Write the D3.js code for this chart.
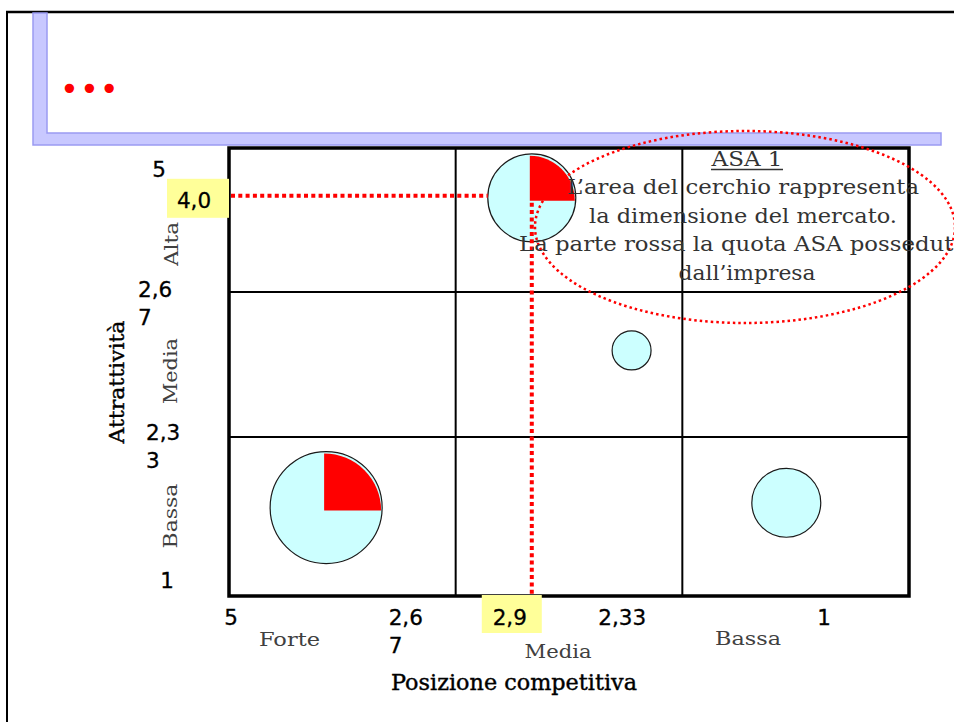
<!DOCTYPE html>
<html>
<head>
<meta charset="utf-8">
<script src="https://cdn.jsdelivr.net/npm/d3@7"></script>
<style>
  html, body { margin: 0; padding: 0; background: #fff; }
  svg { display: block; }
</style>
</head>
<body>
<div id="chart"></div>
<script>
// ---------------- data ----------------
const xTickValues = [5, 3.67, 2.33, 1];
const xTickLabels = [["5"], ["2,6", "7"], ["2,33"], ["1"]];
const yTickValues = [5, 3.67, 2.33, 1];
const yTickLabels = [["5"], ["2,6", "7"], ["2,3", "3"], ["1"]];
const xCategories = ["Forte", "Media", "Bassa"];
const yCategories = ["Alta", "Media", "Bassa"];
const xTitle = "Posizione competitiva";
const yTitle = "Attrattività";
const bubbleNames = ["ASA 1", "ASA 2", "ASA 3", "ASA 4"];
const bubbleX = [3.22, 4.43, 2.63, 1.72];      // posizione competitiva
const bubbleY = [4.54, 1.74, 3.13, 1.78];      // attrattività
const bubbleSize = [19.4, 31.4, 3.8, 11.9];    // dimensione del mercato
const bubbleShare = [0.25, 0.25, 0, 0];        // quota posseduta dall'impresa
const highlightLabels = { x: "2,9", y: "4,0" };
const noteTitle = "ASA 1";
const noteLines = ["L\u2019area del cerchio rappresenta", "la dimensione del mercato.",
                   "La parte rossa la quota ASA posseduta", "dall\u2019impresa"];
const slideTitle = "\u2022\u2022\u2022";

// ---------------- layout ----------------
const W = 954, H = 722;
const L = 229, R = 909, T = 148, B = 596;
const serif = "'DejaVu Serif', 'Liberation Serif', serif";
const sans = "'DejaVu Sans', 'Liberation Sans', sans-serif";

const svg = d3.select("#chart").append("svg").attr("width", W).attr("height", H);

const x = d3.scaleLinear().domain(xTickValues)
  .range(xTickValues.map((d, i) => L + i * (R - L) / (xTickValues.length - 1)));
const y = d3.scaleLinear().domain(yTickValues).range([T, 292, 437, B]);
const rScale = d3.scaleSqrt().domain([0, d3.max(bubbleSize)]).range([0, 56]);

// slide frame
svg.append("line").attr("x1", 6).attr("y1", 12).attr("x2", W).attr("y2", 12)
  .attr("stroke", "#000").attr("stroke-width", 2.5);
svg.append("line").attr("x1", 7).attr("y1", 11).attr("x2", 7).attr("y2", H)
  .attr("stroke", "#000").attr("stroke-width", 2);
svg.append("path").attr("d", "M33,13 H47 V133 H941 V145 H33 Z")
  .attr("fill", "#c8c8ff").attr("stroke", "#9a9af2").attr("stroke-width", 1.5);
svg.append("text").attr("x", 60).attr("y", 100).attr("fill", "#ff0000")
  .attr("font-family", sans).attr("font-size", 32).attr("letter-spacing", 1)
  .text(slideTitle);

// grid
const grid = svg.append("g");
grid.selectAll("line.v").data(xTickValues.slice(1, -1)).join("line")
  .attr("x1", d => x(d)).attr("x2", d => x(d)).attr("y1", T).attr("y2", B)
  .attr("stroke", "#000").attr("stroke-width", 2);
grid.selectAll("line.h").data(yTickValues.slice(1, -1)).join("line")
  .attr("x1", L).attr("x2", R).attr("y1", d => y(d)).attr("y2", d => y(d))
  .attr("stroke", "#000").attr("stroke-width", 2);
grid.append("rect").attr("x", x(5)).attr("y", y(5))
  .attr("width", x(1) - x(5)).attr("height", y(1) - y(5))
  .attr("fill", "none").attr("stroke", "#000").attr("stroke-width", 3.5);

// highlight boxes (behind the labels)
const hx = x(bubbleX[0]), hy = y(bubbleY[0]), hr = rScale(bubbleSize[0]);
svg.append("rect").attr("x", 167).attr("y", hy - 19).attr("width", L - 167).attr("height", 39)
  .attr("fill", "#ffff99");
svg.append("rect").attr("x", hx - 50).attr("y", B - 1).attr("width", 60).attr("height", 38)
  .attr("fill", "#ffff99");

// bubbles
const bubbles = svg.append("g").selectAll("g")
  .data(bubbleNames.map((n, i) => ({ n, x: bubbleX[i], y: bubbleY[i], s: bubbleSize[i], q: bubbleShare[i] })))
  .join("g").attr("transform", d => `translate(${x(d.x)},${y(d.y)})`);
bubbles.append("circle").attr("r", d => rScale(d.s)).attr("fill", "#ccffff");
bubbles.filter(d => d.q > 0).append("path")
  .attr("d", d => d3.arc()({ innerRadius: 0, outerRadius: rScale(d.s) + 1, startAngle: 0, endAngle: d.q * 2 * Math.PI }))
  .attr("transform", "translate(-2,3)")
  .attr("fill", "#ff0000");
bubbles.append("circle").attr("r", d => rScale(d.s)).attr("fill", "none")
  .attr("stroke", "#1a1a1a").attr("stroke-width", 1.2);

// red dotted guide lines for ASA 1
svg.append("line").attr("x1", L + 2).attr("x2", hx - hr).attr("y1", hy - 2).attr("y2", hy - 2)
  .attr("stroke", "#ff0000").attr("stroke-width", 4).attr("stroke-dasharray", "4,3.3");
svg.append("line").attr("x1", hx).attr("x2", hx).attr("y1", hy + 5).attr("y2", B - 1)
  .attr("stroke", "#ff0000").attr("stroke-width", 4).attr("stroke-dasharray", "4,3.3");

// note ellipse
svg.append("ellipse").attr("cx", 745).attr("cy", 227).attr("rx", 210).attr("ry", 96)
  .attr("fill", "none").attr("stroke", "#ff0000").attr("stroke-width", 2.5)
  .attr("stroke-dasharray", "2.5,3");

// note text
const note = svg.append("g").attr("font-family", serif).attr("fill", "#333").attr("text-anchor", "middle");
note.append("text").attr("x", 747).attr("y", 166).attr("font-size", 21)
  .attr("textLength", 71).attr("lengthAdjust", "spacingAndGlyphs").text(noteTitle);
note.append("line").attr("x1", 711).attr("x2", 783).attr("y1", 169.5).attr("y2", 169.5)
  .attr("stroke", "#333").attr("stroke-width", 1.5);
const noteLens = [352, 308, 448, 137];
const noteCx = [743, 743, 743, 747];
note.selectAll("text.l").data(noteLines).join("text").attr("class", "l")
  .attr("x", (d, i) => noteCx[i]).attr("y", (d, i) => 194 + i * 28.5)
  .attr("font-size", 20).attr("textLength", (d, i) => noteLens[i])
  .attr("lengthAdjust", "spacingAndGlyphs").text(d => d);

// x tick labels
const xOff = [{ dx: 2, a: "middle" }, { dx: -67, a: "start" }, { dx: -84, a: "start" }, { dx: -85, a: "middle" }];
const xt = svg.append("g").attr("font-family", sans).attr("font-size", 21.5).attr("fill", "#000")
  .attr("stroke", "#000").attr("stroke-width", 0.3);
xTickValues.forEach((v, i) => {
  const t = xt.append("text").attr("text-anchor", xOff[i].a);
  xTickLabels[i].forEach((s, j) => t.append("tspan").attr("x", x(v) + xOff[i].dx).attr("y", 625 + j * 28).text(s));
});
xt.append("text").attr("x", hx - 22).attr("y", 625).attr("text-anchor", "middle").text(highlightLabels.x);

// y tick labels
const yOff = [{ dx: 159, dy: 29, a: "middle" }, { dx: 138, dy: 5, a: "start" }, { dx: 146, dy: 3, a: "start" }, { dx: 167, dy: -8, a: "middle" }];
yTickValues.forEach((v, i) => {
  const t = xt.append("text").attr("text-anchor", yOff[i].a);
  yTickLabels[i].forEach((s, j) => t.append("tspan").attr("x", yOff[i].dx).attr("y", y(v) + yOff[i].dy + j * 28).text(s));
});
xt.append("text").attr("x", 194).attr("y", hy + 10).attr("text-anchor", "middle").text(highlightLabels.y);

// category labels
const cat = svg.append("g").attr("font-family", serif).attr("font-size", 19).attr("fill", "#404040")
  .attr("text-anchor", "middle");
const xCatPos = [[289.5, 646, 61], [558, 658, 67], [748, 645, 66]];
cat.selectAll("text.xc").data(xCategories).join("text").attr("class", "xc")
  .attr("x", (d, i) => xCatPos[i][0]).attr("y", (d, i) => xCatPos[i][1])
  .attr("textLength", (d, i) => xCatPos[i][2]).attr("lengthAdjust", "spacingAndGlyphs").text(d => d);
const yCatPos = [[178, 244, 44], [177, 371, 66], [177, 516, 65]];
cat.selectAll("text.yc").data(yCategories).join("text").attr("class", "yc")
  .attr("transform", (d, i) => `translate(${yCatPos[i][0]},${yCatPos[i][1]}) rotate(-90)`)
  .attr("textLength", (d, i) => yCatPos[i][2]).attr("lengthAdjust", "spacingAndGlyphs").text(d => d);

// axis titles
svg.append("text").attr("x", 514).attr("y", 690).attr("text-anchor", "middle")
  .attr("font-family", serif).attr("font-size", 22).attr("fill", "#000")
  .attr("stroke", "#000").attr("stroke-width", 0.4)
  .attr("textLength", 246).attr("lengthAdjust", "spacingAndGlyphs").text(xTitle);
svg.append("text").attr("transform", "translate(124,382) rotate(-90)").attr("text-anchor", "middle")
  .attr("font-family", serif).attr("font-size", 21).attr("fill", "#000")
  .attr("stroke", "#000").attr("stroke-width", 0.4)
  .attr("textLength", 123).attr("lengthAdjust", "spacingAndGlyphs").text(yTitle);
</script>
</body>
</html>
